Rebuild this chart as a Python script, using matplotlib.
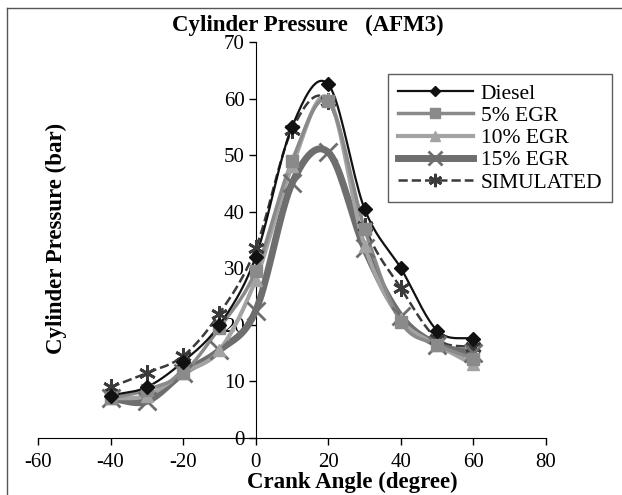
import numpy as np
import matplotlib.pyplot as plt
from matplotlib.lines import Line2D

# Data
crank = [-40, -30, -20, -10, 0, 10, 20, 30, 40, 50, 60]
diesel = [7.5, 9.0, 13.5, 20.0, 32.0, 55.0, 62.5, 40.5, 30.0, 19.0, 17.5]
egr5 = [7.0, 8.5, 11.5, 19.5, 29.5, 49.0, 59.5, 37.0, 20.5, 16.5, 14.0]
egr10 = [7.0, 7.5, 11.5, 15.5, 28.0, 48.0, 60.0, 34.0, 21.0, 16.5, 13.0]
egr15 = [7.0, 6.5, 11.5, 15.5, 22.5, 45.0, 50.5, 33.5, 21.5, 16.5, 15.0]
simulated = [9.0, 11.5, 14.5, 22.0, 33.5, 54.5, 59.5, 37.5, 26.5, 17.5, 16.0]


def smooth(x, y, n=20):
    # Catmull-Rom style smoothing, like Excel's "smoothed line"
    x = np.asarray(x, float)
    y = np.asarray(y, float)
    px = np.concatenate([[2 * x[0] - x[1]], x, [2 * x[-1] - x[-2]]])
    py = np.concatenate([[2 * y[0] - y[1]], y, [2 * y[-1] - y[-2]]])
    t = np.linspace(0, 1, n)
    xs, ys = [], []
    for i in range(1, len(px) - 2):
        for p, out in ((px, xs), (py, ys)):
            p0, p1, p2, p3 = p[i - 1], p[i], p[i + 1], p[i + 2]
            out.extend(0.5 * (2 * p1 + (-p0 + p2) * t
                              + (2 * p0 - 5 * p1 + 4 * p2 - p3) * t**2
                              + (-p0 + 3 * p1 - 3 * p2 + p3) * t**3))
    return np.array(xs), np.array(ys)


plt.rcParams['font.family'] = 'Liberation Serif'
plt.rcParams['axes.unicode_minus'] = False

fig = plt.figure(figsize=(6.22, 4.95), dpi=100)
ax = fig.add_axes([38 / 622, 1 - 438 / 495, 508 / 622, 396 / 495])

series = [
    ('Diesel', diesel, '#111111', 1.6, 'D', 7, '-'),
    ('5% EGR', egr5, '#8a8a8a', 2.5, 's', 9, '-'),
    ('10% EGR', egr10, '#a3a3a3', 3.0, '^', 9, '-'),
    ('15% EGR', egr15, '#6e6e6e', 5.0, 'x', 13, '-'),
    ('SIMULATED', simulated, '#3a3a3a', 1.8, (6, 2, 0), 12, '--'),
]

handles = []
for label, vals, color, lw, marker, ms, ls in series[::-1]:
    sx, sy = smooth(crank, vals)
    ax.plot(sx, sy, color=color, lw=lw, ls=ls, zorder=3)
    mew = 2.0 if marker in ('x', (6, 2, 0)) else 1.0
    ax.plot(crank, vals, ls='none', marker=marker, ms=ms, color=color,
            mec=color, mew=mew, zorder=4)

for label, vals, color, lw, marker, ms, ls in series:
    mew = 2.0 if marker in ('x', (6, 2, 0)) else 1.0
    handles.append(Line2D([], [], color=color, lw=lw, ls=ls, marker=marker,
                          ms=ms * 0.8, mew=mew, label=label))

ax.set_xlim(-60, 80)
ax.set_ylim(0, 70)
ax.set_xticks(np.arange(-60, 81, 20))
ax.set_yticks(np.arange(0, 71, 10))
ax.spines['left'].set_position(('data', 0))
ax.spines['top'].set_visible(False)
ax.spines['right'].set_visible(False)
ax.tick_params(direction='out', labelsize=15, length=5, width=1)
ax.tick_params(axis='x', pad=6)
ax.tick_params(axis='y', pad=3)

fig.text(308 / 622, 1 - 25 / 495, 'Cylinder Pressure   (AFM3)', ha='center',
         va='center', fontsize=16.5, fontweight='bold')
fig.text(352 / 622, 1 - 482 / 495, 'Crank Angle (degree)', ha='center',
         va='center', fontsize=16.5, fontweight='bold')
fig.text(56 / 622, 1 - 238 / 495, 'Cylinder Pressure (bar)', ha='center',
         va='center', fontsize=16.5, fontweight='bold', rotation=90)

leg = ax.legend(handles=handles, loc='upper right',
                bbox_to_anchor=(612 / 622, 1 - 74 / 495),
                bbox_transform=fig.transFigure, borderaxespad=0,
                fancybox=False, edgecolor='#333333', fontsize=15.5,
                handlelength=3.5, labelspacing=0.1, borderpad=0.45,
                handletextpad=0.35)
leg.get_frame().set_linewidth(1.0)

# outer chart frame
fig.add_artist(Line2D([7 / 622, 7 / 622], [0, 1 - 8 / 495], color='#555555',
                      lw=1, transform=fig.transFigure))
fig.add_artist(Line2D([7 / 622, 1], [1 - 8 / 495, 1 - 8 / 495],
                      color='#555555', lw=1, transform=fig.transFigure))

fig.savefig('out.png', dpi=100)
